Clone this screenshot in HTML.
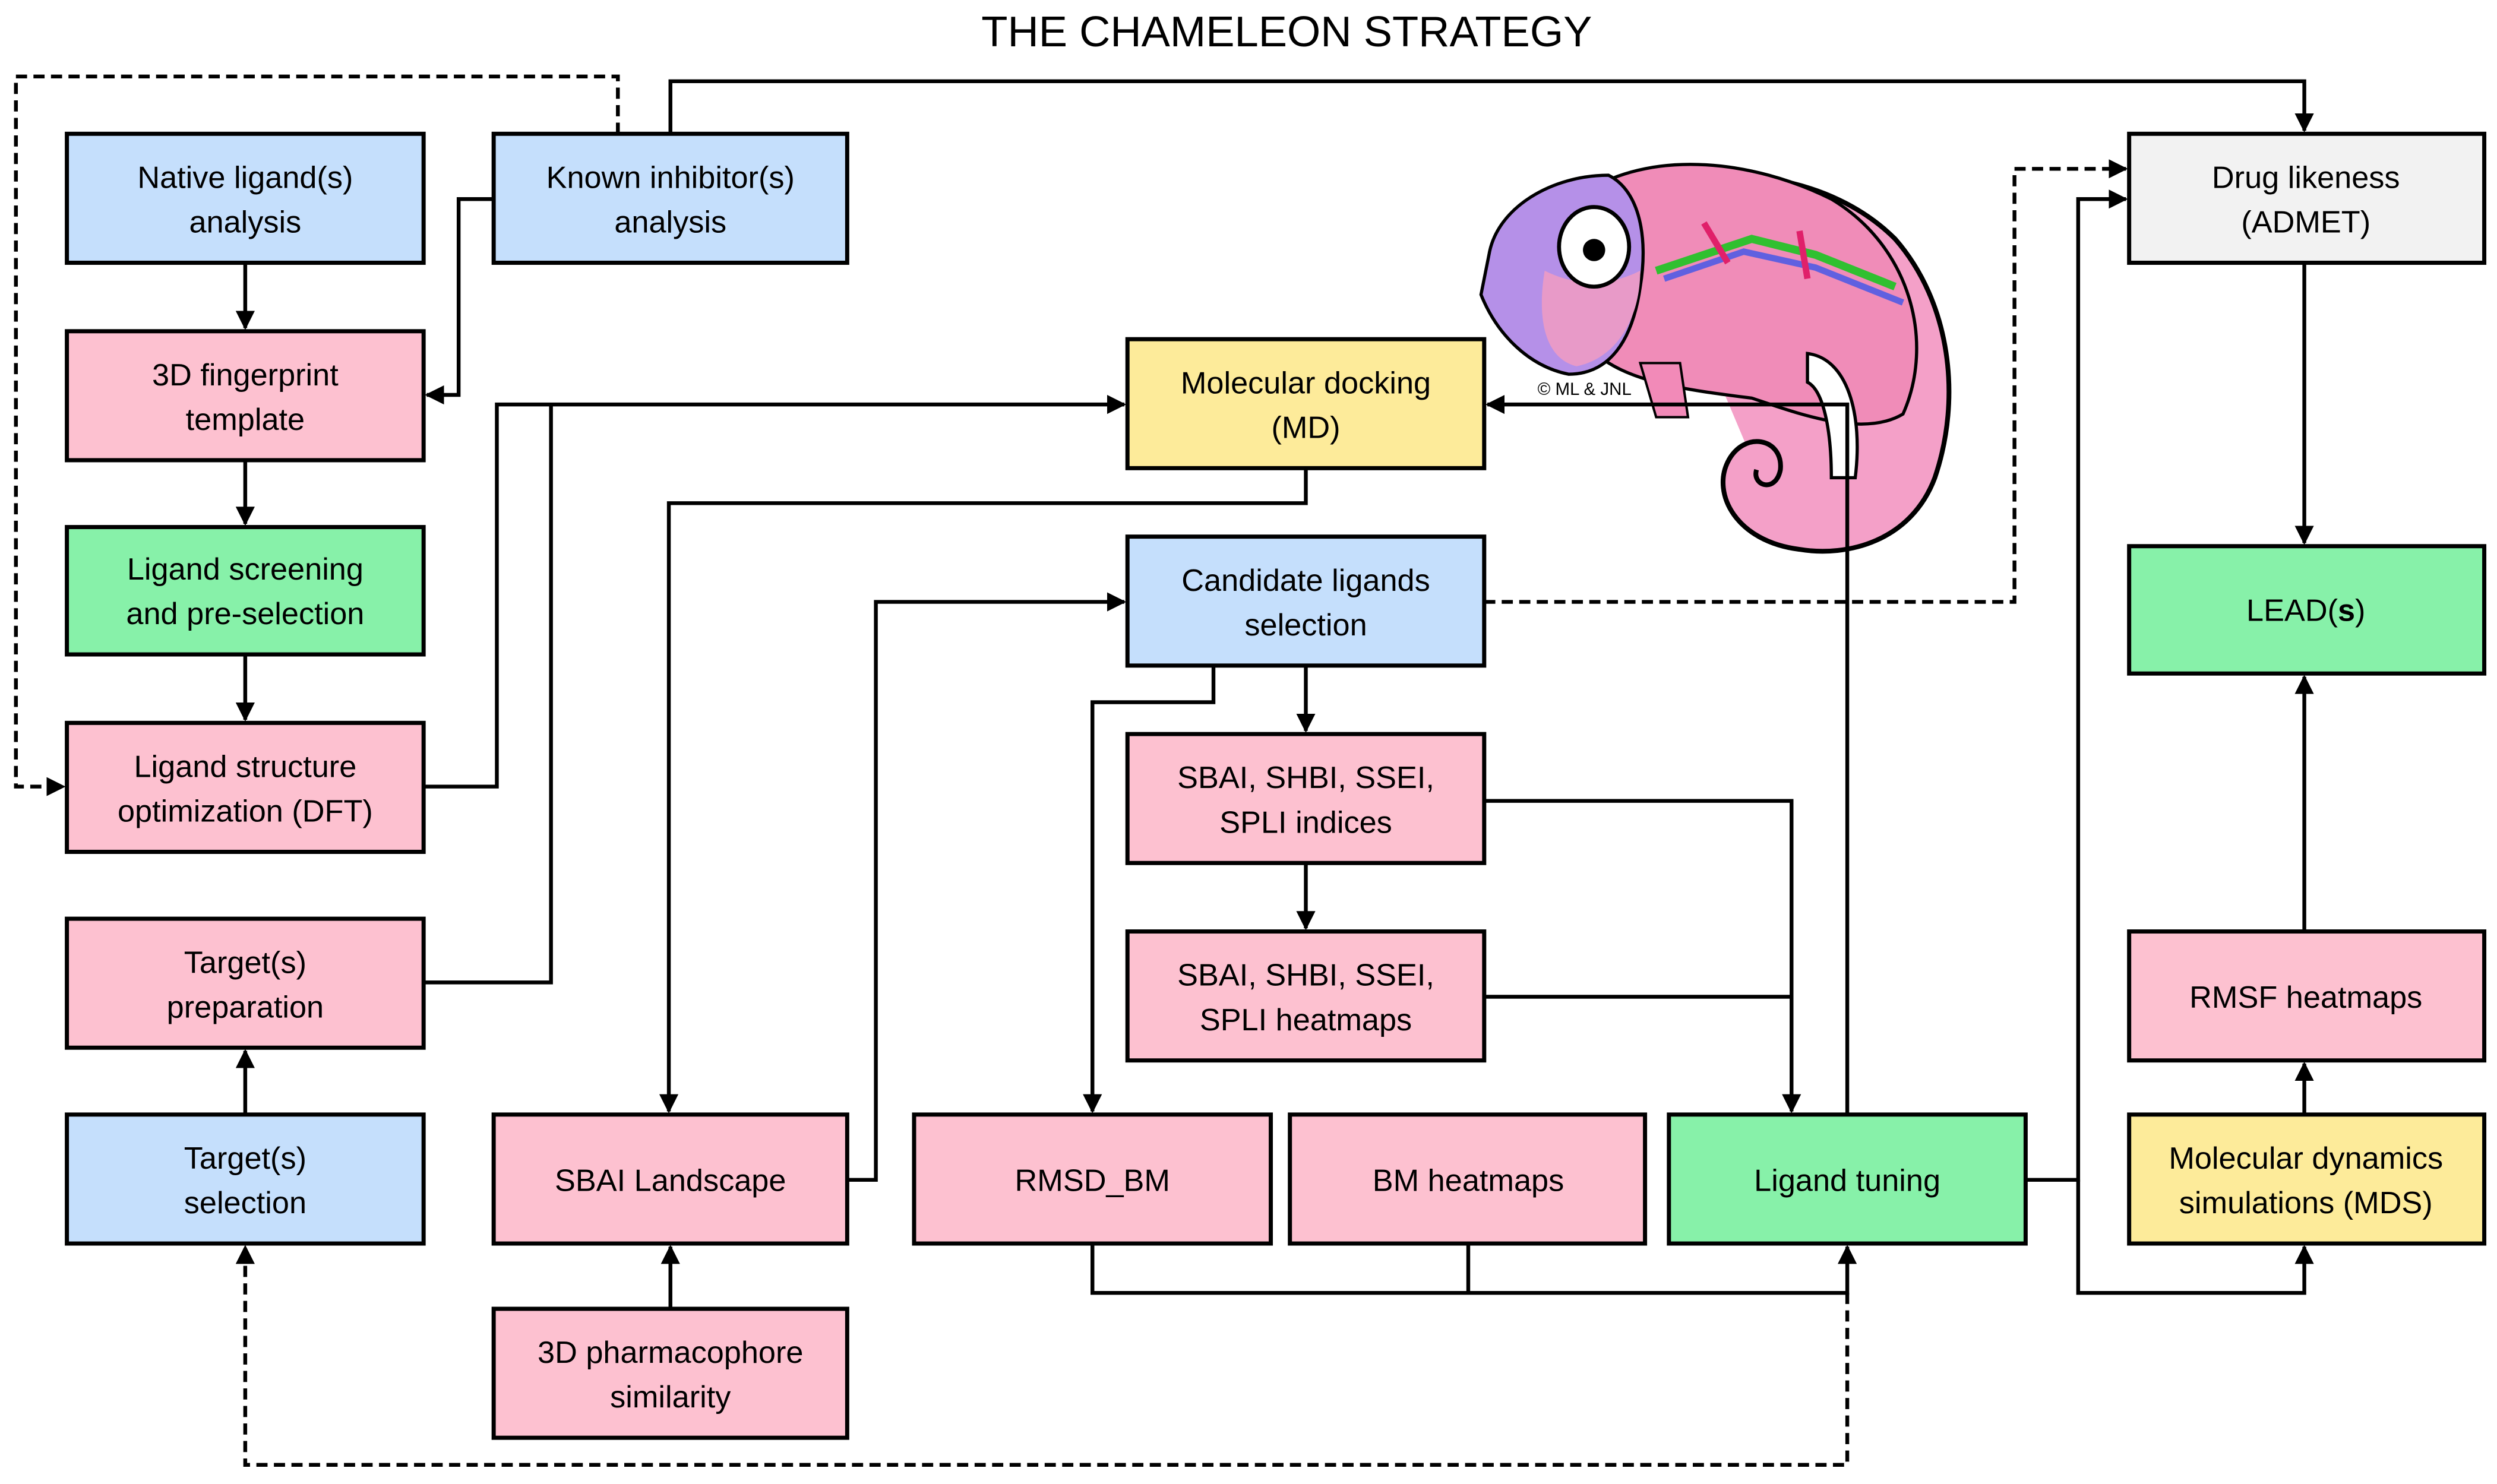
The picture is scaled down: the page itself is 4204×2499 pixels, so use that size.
<!DOCTYPE html>
<html><head><meta charset="utf-8"><style>
html,body{margin:0;padding:0;background:#fff;}
svg{display:block;}
text{font-family:"Liberation Sans",sans-serif;font-size:19.5px;fill:#000;text-anchor:middle;}
.b{stroke:#000;stroke-width:2.6;}
.l{fill:none;stroke:#000;stroke-width:2.4;}
.d{fill:none;stroke:#000;stroke-width:2.4;stroke-dasharray:7 4;}
</style></head><body>
<svg width="4204" height="2499" viewBox="0 0 1568 932" xmlns="http://www.w3.org/2000/svg">
<defs><marker id="a" viewBox="0 0 10 10" refX="9" refY="5" markerWidth="5" markerHeight="5" orient="auto"><path d="M0,0L10,5L0,10z" fill="#000"/></marker></defs>
<text x="808" y="29" style="font-size:27px">THE CHAMELEON STRATEGY</text>

<!-- chameleon -->
<g>
<path d="M1030,122 C1080,100 1150,110 1190,150 C1225,190 1232,250 1215,300 C1200,340 1160,350 1130,345 C1090,340 1075,310 1085,290 C1095,270 1120,275 1118,295 C1115,310 1100,305 1103,295" fill="#f4a0c8" stroke="#000" stroke-width="3"/>
<path d="M1000,118 C1040,95 1100,100 1150,125 C1200,155 1215,215 1195,260 C1170,275 1130,260 1100,250 C1060,245 1020,240 1000,220 Z" fill="#f08cb8" stroke="#000" stroke-width="2"/>
<path d="M1135,222 C1160,225 1170,260 1165,300 L1150,300 C1150,270 1145,245 1135,240 Z" fill="#fff" stroke="#000" stroke-width="2"/>
<path d="M1030,228 L1040,262 L1060,262 L1055,228 Z" fill="#f28ab8" stroke="#000" stroke-width="1.5"/>
<path d="M935,160 C940,130 975,110 1010,110 C1030,120 1035,150 1030,180 C1025,215 1010,235 985,235 C960,230 940,210 930,185 Z" fill="#b590e8" stroke="#000" stroke-width="2"/>
<path d="M970,170 C990,180 1010,180 1030,170 C1030,200 1015,225 990,230 C970,225 965,200 970,170Z" fill="#e89ac8"/>
<ellipse cx="1001" cy="155" rx="22" ry="25" fill="#fff" stroke="#000" stroke-width="2.5"/>
<circle cx="1001" cy="157" r="7" fill="#000"/>
<path d="M1040,170 L1100,150 L1140,160 L1190,180" stroke="#30c030" stroke-width="5" fill="none"/>
<path d="M1045,175 L1095,158 L1140,168 L1195,190" stroke="#6060e0" stroke-width="4" fill="none"/>
<path d="M1070,140 L1085,165 M1130,145 L1135,175" stroke="#e0206a" stroke-width="4"/>
<text x="995" y="248" style="font-size:11px">© ML &amp; JNL</text>
</g>

<!-- connectors -->
<path class="d" d="M388,84V48H10V494H40" marker-end="url(#a)"/>
<path class="l" d="M421,84V51H1447V82" marker-end="url(#a)"/>
<path class="l" d="M310,125H288V248H268" marker-end="url(#a)"/>
<path class="l" d="M154,165V206" marker-end="url(#a)"/>
<path class="l" d="M154,289V329" marker-end="url(#a)"/>
<path class="l" d="M154,411V452" marker-end="url(#a)"/>
<path class="l" d="M266,494H312V254H706" marker-end="url(#a)"/>
<path class="l" d="M266,617H346V254"/>
<path class="l" d="M154,700V660" marker-end="url(#a)"/>
<path class="l" d="M820,294V316H420V698" marker-end="url(#a)"/>
<path class="l" d="M421,822V783" marker-end="url(#a)"/>
<path class="l" d="M532,741H550V378H706" marker-end="url(#a)"/>
<path class="l" d="M820,418V459" marker-end="url(#a)"/>
<path class="l" d="M762,418V441H686V698" marker-end="url(#a)"/>
<path class="l" d="M820,542V583" marker-end="url(#a)"/>
<path class="l" d="M932,503H1125V698" marker-end="url(#a)"/>
<path class="l" d="M932,626H1125"/>
<path class="d" d="M932,378H1265V106H1335" marker-end="url(#a)"/>
<path class="l" d="M1160,700V254H934" marker-end="url(#a)"/>
<path class="l" d="M686,781V812H1160V783" marker-end="url(#a)"/>
<path class="l" d="M922,781V812"/>
<path class="d" d="M1160,812V920H154V783" marker-end="url(#a)"/>
<path class="l" d="M1272,741H1305V125H1335" marker-end="url(#a)"/>
<path class="l" d="M1305,741V812H1447V783" marker-end="url(#a)"/>
<path class="l" d="M1447,165V341" marker-end="url(#a)"/>
<path class="l" d="M1447,700V668" marker-end="url(#a)"/>
<path class="l" d="M1447,585V425" marker-end="url(#a)"/>

<!-- boxes -->
<g class="b">
<rect x="42" y="84" width="224" height="81" fill="#c5dffc"/>
<rect x="310" y="84" width="222" height="81" fill="#c5dffc"/>
<rect x="42" y="208" width="224" height="81" fill="#fdc1d0"/>
<rect x="42" y="331" width="224" height="80" fill="#87f1a9"/>
<rect x="42" y="454" width="224" height="81" fill="#fdc1d0"/>
<rect x="42" y="577" width="224" height="81" fill="#fdc1d0"/>
<rect x="42" y="700" width="224" height="81" fill="#c5dffc"/>
<rect x="708" y="213" width="224" height="81" fill="#fdeb9a"/>
<rect x="708" y="337" width="224" height="81" fill="#c5dffc"/>
<rect x="708" y="461" width="224" height="81" fill="#fdc1d0"/>
<rect x="708" y="585" width="224" height="81" fill="#fdc1d0"/>
<rect x="310" y="700" width="222" height="81" fill="#fdc1d0"/>
<rect x="310" y="822" width="222" height="81" fill="#fdc1d0"/>
<rect x="574" y="700" width="224" height="81" fill="#fdc1d0"/>
<rect x="810" y="700" width="223" height="81" fill="#fdc1d0"/>
<rect x="1048" y="700" width="224" height="81" fill="#87f1a9"/>
<rect x="1337" y="84" width="223" height="81" fill="#f2f2f2"/>
<rect x="1337" y="343" width="223" height="80" fill="#87f1a9"/>
<rect x="1337" y="585" width="223" height="81" fill="#fdc1d0"/>
<rect x="1337" y="700" width="223" height="81" fill="#fdeb9a"/>
</g>

<!-- labels -->
<text x="154" y="118">Native ligand(s)</text><text x="154" y="146">analysis</text>
<text x="421" y="118">Known inhibitor(s)</text><text x="421" y="146">analysis</text>
<text x="154" y="242">3D fingerprint</text><text x="154" y="270">template</text>
<text x="154" y="364">Ligand screening</text><text x="154" y="392">and pre-selection</text>
<text x="154" y="488">Ligand structure</text><text x="154" y="516">optimization (DFT)</text>
<text x="154" y="611">Target(s)</text><text x="154" y="639">preparation</text>
<text x="154" y="734">Target(s)</text><text x="154" y="762">selection</text>
<text x="820" y="247">Molecular docking</text><text x="820" y="275">(MD)</text>
<text x="820" y="371">Candidate ligands</text><text x="820" y="399">selection</text>
<text x="820" y="495">SBAI, SHBI, SSEI,</text><text x="820" y="523">SPLI indices</text>
<text x="820" y="619">SBAI, SHBI, SSEI,</text><text x="820" y="647">SPLI heatmaps</text>
<text x="421" y="748">SBAI Landscape</text>
<text x="421" y="856">3D pharmacophore</text><text x="421" y="884">similarity</text>
<text x="686" y="748">RMSD_BM</text>
<text x="922" y="748">BM heatmaps</text>
<text x="1160" y="748">Ligand tuning</text>
<text x="1448" y="118">Drug likeness</text><text x="1448" y="146">(ADMET)</text>
<text x="1448" y="390">LEAD(<tspan font-weight="bold">s</tspan>)</text>
<text x="1448" y="633">RMSF heatmaps</text>
<text x="1448" y="734">Molecular dynamics</text><text x="1448" y="762">simulations (MDS)</text>
</svg>
</body></html>
